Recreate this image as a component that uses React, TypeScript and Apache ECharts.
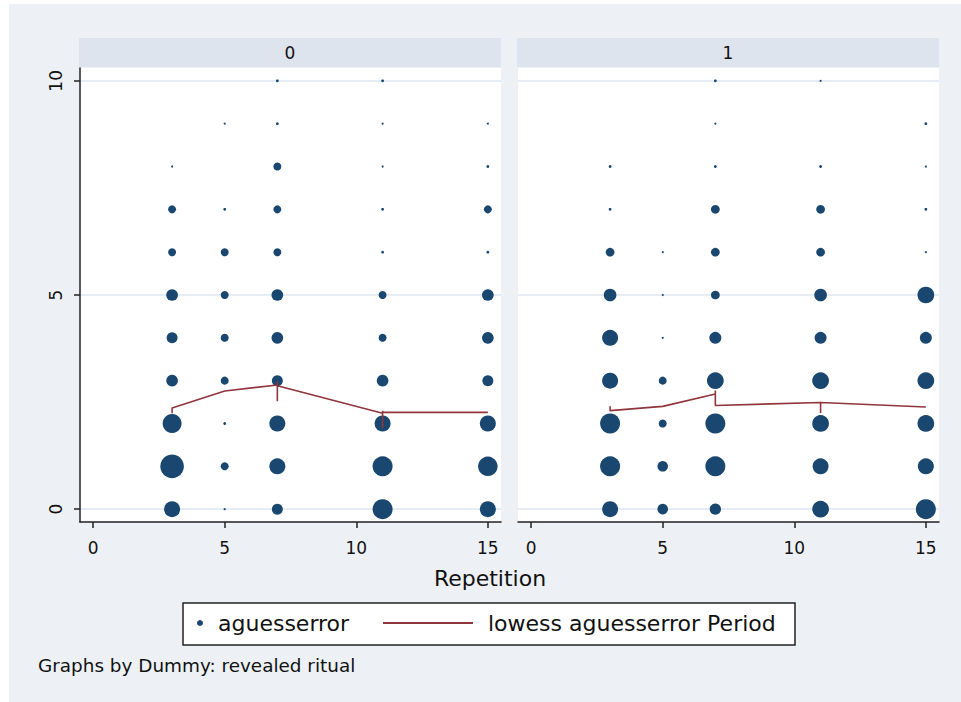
import React, { useEffect, useRef } from "react";
import * as echarts from "echarts";

// Repetition values (x) and guess-error levels (y)
const repetitions = [3, 5, 7, 11, 15];
const errorLevels = [0, 1, 2, 3, 4, 5, 6, 7, 8, 9, 10];

// Frequency weights per error level (rows, y = 0..10) and repetition (cols)
// Dummy: revealed ritual = 0
const weightsDummy0 = [
  [64, 1, 30, 100, 64],
  [140, 16, 64, 100, 95],
  [90, 2, 64, 64, 64],
  [34, 16, 30, 34, 30],
  [30, 16, 34, 16, 34],
  [34, 16, 34, 16, 34],
  [16, 16, 16, 2, 2],
  [16, 2, 16, 2, 16],
  [1, 0, 16, 1, 2],
  [0, 1, 2, 1, 1],
  [0, 0, 2, 2, 0],
];
// Dummy: revealed ritual = 1
const weightsDummy1 = [
  [64, 28, 32, 70, 100],
  [100, 28, 100, 64, 64],
  [100, 16, 100, 70, 70],
  [64, 16, 70, 70, 70],
  [64, 1, 36, 36, 36],
  [40, 1, 19, 40, 70],
  [19, 1, 19, 19, 1],
  [2, 0, 19, 19, 2],
  [2, 0, 2, 2, 1],
  [0, 0, 1, 0, 2],
  [0, 0, 2, 1, 0],
];

// Lowess smoother, points in plotting order [Repetition, aguesserror]
const lowessDummy0 = [
  [3, 2.24], [3, 2.36], [5, 2.76], [7, 2.9], [7, 2.98], [7, 2.52], [7, 2.88],
  [11, 2.24], [11, 2.3], [11, 1.89], [11, 2.26], [15, 2.26],
];
const lowessDummy1 = [
  [3, 2.4], [3, 2.3], [5, 2.4], [7, 2.69], [7, 2.77], [7, 2.42],
  [11, 2.49], [11, 2.245], [11, 2.49], [15, 2.385],
];

const xTicks = [0, 5, 10, 15];
const yTicks = [0, 5, 10];
const panelTitles = ["0", "1"];
const scatterName = "aguesserror";
const lowessName = "lowess aguesserror Period";
const xTitle = "Repetition";
const note = "Graphs by Dummy: revealed ritual";

const FONT = "DejaVu Sans, Liberation Sans, Arial, sans-serif";
const NAVY = "#1a476f";
const MAROON = "#90353b";
const BG = "#edf1f6";
const STRIP = "#dde4ed";
const GRIDLINE = "#e6ecf3";
const AXIS = "#222222";
const TEXT = "#111111";

function toPoints(weights: number[][]) {
  const pts: number[][] = [];
  weights.forEach((row, i) => {
    row.forEach((w, j) => {
      if (w > 0) pts.push([repetitions[j], errorLevels[i], w]);
    });
  });
  return pts;
}

export default function App() {
  const ref = useRef<HTMLDivElement>(null);
  useEffect(() => {
    if (!ref.current) return;
    const chart = echarts.init(ref.current, null, { renderer: "svg" });
    const grids = [
      { left: 80, top: 68, width: 421, height: 454 },
      { left: 518, top: 68, width: 421, height: 454 },
    ];
    const xAxes = grids.map((_, i) => ({
      type: "value",
      gridIndex: i,
      min: -0.5,
      max: 15.5,
      axisLine: { show: true, onZero: false, lineStyle: { color: AXIS, width: 1.5 } },
      axisTick: { show: true, length: 6, customValues: xTicks, lineStyle: { color: AXIS, width: 1.5 } },
      axisLabel: { customValues: xTicks, color: TEXT, fontSize: 17, fontFamily: FONT, margin: 17 },
      splitLine: { show: false },
    }));
    const yAxes = grids.map((_, i) => ({
      type: "value",
      gridIndex: i,
      min: -0.3,
      max: 10.3,
      axisLine: { show: i === 0, onZero: false, lineStyle: { color: AXIS, width: 1.5 } },
      axisTick: { show: i === 0, length: 6, customValues: yTicks, lineStyle: { color: AXIS, width: 1.5 } },
      axisLabel: {
        show: i === 0,
        customValues: yTicks,
        rotate: 90,
        color: TEXT,
        fontSize: 17,
        fontFamily: FONT,
        margin: 16,
      },
      splitLine: { show: true, lineStyle: { color: GRIDLINE, width: 2 } },
    }));
    const size = (v: number[]) => 2 * Math.sqrt(v[2]);
    const option = {
      animation: false,
      grid: grids.map((g) => ({ ...g, show: true, backgroundColor: "#ffffff", borderWidth: 0 })),
      xAxis: xAxes,
      yAxis: yAxes,
      legend: [
        {
          data: [scatterName],
          left: 197,
          top: 612,
          padding: 0,
          icon: "circle",
          itemWidth: 18,
          itemHeight: 6,
          selectedMode: false,
          textStyle: { fontSize: 22, fontFamily: FONT, color: TEXT, padding: [0, 0, 0, 4] },
        },
        {
          data: [lowessName],
          left: 383,
          top: 612,
          padding: 0,
          icon: "rect",
          itemWidth: 90,
          itemHeight: 2,
          itemStyle: { color: MAROON },
          selectedMode: false,
          textStyle: { fontSize: 22, fontFamily: FONT, color: TEXT, padding: [0, 0, 0, 10] },
        },
      ],
      graphic: [
        { type: "rect", z: -10, shape: { x: 9, y: 4, width: 952, height: 698 }, style: { fill: BG } },
        { type: "rect", z: -9, shape: { x: 79, y: 38, width: 422, height: 29 }, style: { fill: STRIP } },
        { type: "rect", z: -9, shape: { x: 517, y: 38, width: 422, height: 29 }, style: { fill: STRIP } },
        {
          type: "text", x: 290, y: 53,
          style: { text: panelTitles[0], fill: TEXT, font: `17px ${FONT}`, textAlign: "center", textVerticalAlign: "middle" },
        },
        {
          type: "text", x: 728, y: 53,
          style: { text: panelTitles[1], fill: TEXT, font: `17px ${FONT}`, textAlign: "center", textVerticalAlign: "middle" },
        },
        {
          type: "text", x: 490, y: 578,
          style: { text: xTitle, fill: TEXT, font: `22px ${FONT}`, textAlign: "center", textVerticalAlign: "middle" },
        },
        {
          type: "rect", z: -5, shape: { x: 183, y: 603, width: 612, height: 42 },
          style: { fill: "#ffffff", stroke: "#222222", lineWidth: 1.5 },
        },
        {
          type: "text", x: 38, y: 665,
          style: { text: note, fill: TEXT, font: `18.4px ${FONT}`, textAlign: "left", textVerticalAlign: "middle" },
        },
      ],
      series: [
        {
          type: "scatter", name: scatterName, xAxisIndex: 0, yAxisIndex: 0,
          data: toPoints(weightsDummy0), symbol: "circle", symbolSize: size,
          itemStyle: { color: NAVY, opacity: 1 }, z: 3,
        },
        {
          type: "scatter", name: scatterName, xAxisIndex: 1, yAxisIndex: 1,
          data: toPoints(weightsDummy1), symbol: "circle", symbolSize: size,
          itemStyle: { color: NAVY, opacity: 1 }, z: 3,
        },
        {
          type: "line", name: lowessName, xAxisIndex: 0, yAxisIndex: 0,
          data: lowessDummy0, symbol: "none", lineStyle: { color: MAROON, width: 1.6 },
          itemStyle: { color: MAROON }, z: 4,
        },
        {
          type: "line", name: lowessName, xAxisIndex: 1, yAxisIndex: 1,
          data: lowessDummy1, symbol: "none", lineStyle: { color: MAROON, width: 1.6 },
          itemStyle: { color: MAROON }, z: 4,
        },
      ],
    };
    chart.setOption(option as any);
    return () => chart.dispose();
  }, []);
  return (
    <div
      ref={ref}
      style={{ position: "absolute", left: 0, top: 0, width: 961, height: 702 }}
    />
  );
}
